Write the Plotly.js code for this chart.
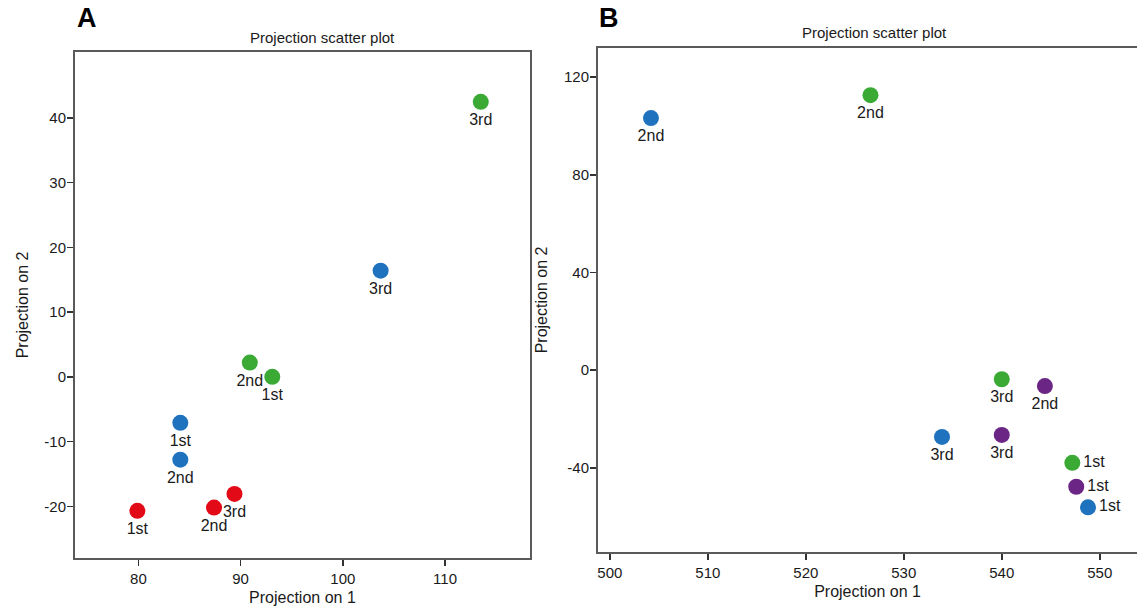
<!DOCTYPE html>
<html>
<head>
<meta charset="utf-8">
<script src="https://cdn.plot.ly/plotly-3.0.1.min.js"></script>
<style>html,body{margin:0;padding:0;background:#fff;}#chart{width:1137px;height:610px;}</style>
</head>
<body>
<div id="chart"></div>
<script>
// ---- data ----
const runLabels = ['1st', '2nd', '3rd'];

// Panel A
const aRedX   = [79.9, 87.4, 89.4];
const aRedY   = [-20.7, -20.2, -18.1];
const aBlueX  = [84.1, 84.1, 103.7];
const aBlueY  = [-7.1, -12.8, 16.4];
const aGreenX = [93.1, 90.9, 113.5];
const aGreenY = [0.0, 2.2, 42.5];

// Panel B
const bBlueX   = [548.8, 504.2, 533.9];
const bBlueY   = [-56.1, 103.2, -27.3];
const bGreenX  = [547.2, 526.6, 540.0];
const bGreenY  = [-37.9, 112.6, -3.7];
const bPurpleX = [547.6, 544.4, 540.0];
const bPurpleY = [-47.7, -6.5, -26.5];

const aXTicks = [80, 90, 100, 110];
const aYTicks = [-20, -10, 0, 10, 20, 30, 40];
const aYTickText = ['-20', '-10', '0', '10', '20', '30', '40'];
const bXTicks = [500, 510, 520, 530, 540, 550];
const bYTicks = [-40, 0, 40, 80, 120];
const bYTickText = ['-40', '0', '40', '80', '120'];

// ---- style ----
const RED = '#e30a17', BLUE = '#1f72be', GREEN = '#3aaa35', PURPLE = '#6b2585';
const FONT = 'Liberation Sans, Arial, sans-serif';
const TXT = '#1a1a1a';

function tr(x, y, color, xa, ya, pos) {
  return {
    type: 'scatter', mode: 'markers+text', x: x, y: y, text: runLabels,
    textposition: pos || 'bottom center',
    textfont: {family: FONT, size: 16, color: TXT},
    marker: {color: color, size: 16, line: {width: 0}},
    xaxis: xa, yaxis: ya, showlegend: false, cliponaxis: false, hoverinfo: 'x+y+text'
  };
}

const data = [
  tr(aRedX, aRedY, RED, 'x', 'y'),
  tr(aBlueX, aBlueY, BLUE, 'x', 'y'),
  tr(aGreenX, aGreenY, GREEN, 'x', 'y'),
  tr(bBlueX, bBlueY, BLUE, 'x2', 'y2', ['middle right', 'bottom center', 'bottom center']),
  tr(bGreenX, bGreenY, GREEN, 'x2', 'y2', ['middle right', 'bottom center', 'bottom center']),
  tr(bPurpleX, bPurpleY, PURPLE, 'x2', 'y2', ['middle right', 'bottom center', 'bottom center'])
];

const axBase = {
  showgrid: false, zeroline: false, showline: true, linecolor: '#5a5a5a', linewidth: 2,
  ticks: 'outside', ticklen: 6, tickwidth: 1.5, tickcolor: '#333',
  tickfont: {family: FONT, size: 15, color: TXT}, automargin: false
};
const titleFont = {family: FONT, size: 16, color: TXT};

const layout = {
  width: 1137, height: 610,
  margin: {l: 0, r: 0, t: 0, b: 0},
  paper_bgcolor: '#fff', plot_bgcolor: '#fff',
  font: {family: FONT, color: TXT},
  xaxis: Object.assign({}, axBase, {
    domain: [0.066, 0.466], range: [73.8, 118.3], tickvals: aXTicks, mirror: true, anchor: 'y',
    title: {text: 'Projection on 1', font: titleFont, standoff: 6}
  }),
  yaxis: Object.assign({}, axBase, {
    domain: [0.0852, 0.9148], range: [-28.0, 50.2], tickvals: aYTicks, ticktext: aYTickText,
    mirror: true, anchor: 'x', ticklabelstandoff: -2,
    title: {text: 'Projection on 2', font: titleFont, standoff: 12}
  }),
  xaxis2: Object.assign({}, axBase, {
    domain: [0.526, 1.0], range: [498.8, 553.8], tickvals: bXTicks, mirror: true, anchor: 'y2',
    title: {text: 'Projection on 1', font: titleFont, standoff: 6}
  }),
  yaxis2: Object.assign({}, axBase, {
    domain: [0.0951, 0.9213], range: [-74.4, 131.9], tickvals: bYTicks, ticktext: bYTickText,
    mirror: false, anchor: 'x2', ticklabelstandoff: -2,
    title: {text: 'Projection on 2', font: titleFont, standoff: 12}
  }),
  annotations: [
    {text: '<b>A</b>', x: 87, y: 18, showarrow: false,
     font: {family: FONT, size: 27, color: '#000'}},
    {text: '<b>B</b>', x: 609, y: 18, showarrow: false,
     font: {family: FONT, size: 27, color: '#000'}},
    {text: 'Projection scatter plot', x: 322, y: 37, showarrow: false,
     font: {family: FONT, size: 15, color: TXT}},
    {text: 'Projection scatter plot', x: 874, y: 33, showarrow: false,
     font: {family: FONT, size: 15, color: TXT}}
  ]
};

// convert pixel positions of annotations to paper coords
layout.annotations.forEach(a => {
  a.xref = 'paper'; a.yref = 'paper';
  a.x = a.x / 1137; a.y = 1 - a.y / 610;
  a.xanchor = 'center'; a.yanchor = 'middle';
});

Plotly.newPlot('chart', data, layout, {displayModeBar: false, staticPlot: true});
</script>
</body>
</html>
